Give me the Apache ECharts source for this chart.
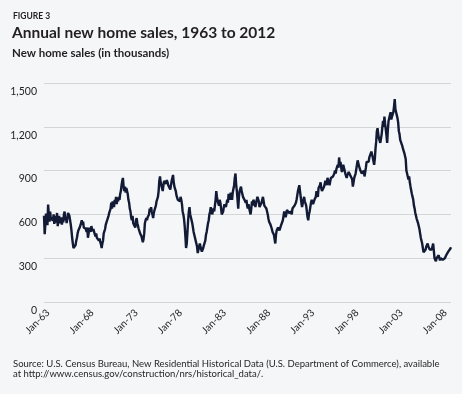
<!DOCTYPE html>
<html><head><meta charset="utf-8">
<script src="https://cdn.jsdelivr.net/npm/echarts@6/dist/echarts.min.js"></script>
<style>html,body{margin:0;padding:0;background:#f4f6f8;}#c{width:462px;height:394px;}</style>
</head><body><div id="c"></div>
<script>
// New home sales, seasonally adjusted annual rate, thousands (monthly, Jan 1963 onward)
const startYear = 1963;
const sales1960s = [
  591, 464, 461, 605, 586, 526, 668, 597, 551, 620, 560, 558,
  580, 555, 600, 535, 590, 560, 545, 610, 520, 565, 590, 540,
  555, 580, 530, 560, 545, 600, 620, 560, 580, 540, 575, 610,
  600, 590, 560, 530, 490, 440, 400, 370, 360, 365, 390, 420,
  440, 470, 490, 480, 510, 500, 540, 560, 530, 550, 510, 520,
  520, 500, 480, 510, 440, 470, 510, 500, 480, 520, 500, 485,
  500, 480, 470, 450, 470, 440, 430, 445, 420, 435, 410, 395
];
const sales1970s = [
  370, 400, 420, 470, 460, 500, 530, 545, 560, 575, 590, 610,
  600, 640, 680, 640, 690, 700, 650, 700, 680, 720, 670, 710,
  690, 720, 700, 740, 760, 800, 830, 850, 790, 760, 790, 750,
  780, 760, 740, 700, 680, 640, 620, 580, 560, 590, 540, 550,
  530, 510, 560, 575, 540, 520, 500, 490, 470, 480, 450, 440,
  410, 430, 470, 540, 560, 575, 560, 580, 570, 600, 640, 620,
  650, 620, 600, 575, 610, 630, 620, 660, 690, 680, 720, 760,
  830, 860, 820, 800, 780, 760, 800, 830, 820, 840, 810, 835,
  820, 800, 810, 790, 770, 780, 830, 850, 870, 820, 790, 780,
  760, 730, 720, 700, 690, 710, 690, 720, 700, 670, 620, 600
];
const sales1980s = [
  570, 520, 450, 370, 400, 480, 560, 620, 650, 600, 580, 560,
  540, 510, 480, 470, 440, 420, 410, 380, 335, 340, 380, 400,
  390, 360, 345, 335, 370, 390, 380, 420, 460, 480, 510, 540,
  560, 600, 620, 650, 640, 600, 620, 640, 620, 660, 700, 760,
  720, 690, 680, 660, 700, 680, 640, 600, 590, 620, 650, 670,
  680, 650, 640, 700, 680, 740, 720, 700, 750, 720, 700, 750,
  760, 800, 850, 880, 800, 760, 700, 640, 720, 760, 770, 790,
  760, 740, 720, 730, 700, 710, 680, 700, 660, 640, 670, 640,
  620, 600, 640, 690, 660, 700, 710, 680, 650, 660, 700, 720,
  710, 690, 650, 660, 640, 680, 700, 720, 690, 660, 670, 650
];
const sales1990s = [
  640, 620, 600, 570, 550, 540, 530, 520, 500, 480, 470, 460,
  430, 401, 460, 490, 500, 510, 500, 490, 505, 520, 510, 530,
  560, 590, 620, 600, 580, 600, 630, 620, 640, 610, 620, 600,
  620, 600, 640, 650, 630, 660, 670, 680, 700, 730, 760, 780,
  800, 760, 720, 680, 650, 640, 700, 720, 690, 700, 660, 650,
  580, 560, 600, 620, 650, 680, 700, 690, 670, 660, 700, 710,
  720, 760, 740, 720, 780, 790, 800, 820, 780, 760, 770, 750,
  790, 810, 830, 820, 800, 850, 860, 820, 800, 810, 850, 840,
  850, 860, 870, 880, 900, 880, 910, 920, 940, 920, 990, 940,
  960, 920, 890, 910, 940, 920, 900, 880, 870, 850, 870, 880
];
const sales2000s = [
  890, 900, 870, 880, 860, 840, 790, 820, 850, 860, 880, 910,
  940, 970, 950, 930, 920, 900, 890, 880, 870, 890, 900, 860,
  890, 920, 960, 970, 950, 960, 990, 1000, 980, 1030, 1010, 990,
  1000, 940, 980, 1050, 1100, 1170, 1190, 1150, 1120, 1130, 1090, 1100,
  1150, 1200, 1240, 1200, 1270, 1220, 1180, 1140, 1090, 1180, 1240, 1230,
  1280, 1300, 1250, 1270, 1260, 1300, 1340, 1389, 1320, 1300, 1280, 1260,
  1230, 1170, 1150, 1110, 1120, 1100, 1070, 1050, 1040, 1020, 1010, 980,
  900, 890, 860, 840, 860, 820, 790, 780, 740, 720, 700, 660,
  640, 610, 590, 570, 560, 540, 520, 500, 470, 440, 420, 400,
  370, 340, 330, 345, 360, 380, 390, 400, 380, 390, 360, 350
];
const sales2010s = [
  350, 360, 380, 400, 410, 300, 290, 280, 300, 290, 300, 320,
  310, 285, 300, 310, 300, 290, 285, 290, 300, 310, 320, 330,
  330, 345, 355, 345, 365, 375
];
const tickLabels = ['Jan-63','Jan-68','Jan-73','Jan-78','Jan-83','Jan-88','Jan-93','Jan-98','Jan-03','Jan-08'];
const yMin = 0, yMax = 1500, yStep = 300;

const sales = [].concat(sales1960s, sales1970s, sales1980s, sales1990s, sales2000s, sales2010s);
const monthNames = ['Jan','Feb','Mar','Apr','May','Jun','Jul','Aug','Sep','Oct','Nov','Dec'];
const months = sales.map((v, i) => monthNames[i % 12] + '-' + String((startYear + Math.floor(i / 12)) % 100).padStart(2, '0'));

const FONT = 'Lato, "Open Sans", sans-serif';
const TXT = '#231f20';
const chart = echarts.init(document.getElementById('c'), null, {renderer: 'canvas'});
chart.setOption({
  animation: false,
  backgroundColor: '#f4f6f8',
  grid: [
    {left: 44, right: 11, top: 83, bottom: 92},
    {left: 48, right: 16.6, top: 83, bottom: 92}
  ],
  xAxis: [
    {type: 'category', data: months, boundaryGap: false, gridIndex: 0,
     axisLine: {show: false}, axisTick: {show: false}, axisLabel: {show: false}, splitLine: {show: false}},
    {type: 'category', data: tickLabels, boundaryGap: false, gridIndex: 1,
     axisLine: {show: false}, axisTick: {show: false}, splitLine: {show: false},
     axisLabel: {rotate: 45, margin: 9, interval: 0, fontSize: 10, color: TXT, fontFamily: FONT}}
  ],
  yAxis: [
    {type: 'value', min: yMin, max: yMax, interval: yStep, gridIndex: 0,
     axisLine: {show: false}, axisTick: {show: false},
     splitLine: {lineStyle: {color: '#d4d5d7', width: 1}},
     axisLabel: {margin: 7, fontSize: 10.5, color: TXT, fontFamily: FONT, verticalAlign: 'top', padding: [3, 0, 0, 0],
       formatter: v => v.toLocaleString('en-US')}},
    {type: 'value', gridIndex: 1, min: 0, max: 1, show: false}
  ],
  series: [{
    type: 'line', xAxisIndex: 0, yAxisIndex: 0, data: sales, showSymbol: false,
    lineStyle: {color: '#121a35', width: 2.4}, silent: true
  }],
  graphic: [
    {type: 'text', style: {text: 'FIGURE 3', x: 13, y: 16, fill: TXT, font: 'bold 8.5px ' + FONT, textVerticalAlign: 'middle'}},
    {type: 'text', style: {text: 'Annual new home sales, 1963 to 2012', x: 12, y: 32.5, fill: TXT, font: 'bold 15.5px ' + FONT, textVerticalAlign: 'middle'}},
    {type: 'text', style: {text: 'New home sales (in thousands)', x: 12, y: 53.7, fill: TXT, font: 'bold 11.5px ' + FONT, textVerticalAlign: 'middle'}},
    {type: 'text', style: {text: 'Source: U.S. Census Bureau, New Residential Historical Data (U.S. Department of Commerce), available', x: 13, y: 363.7, fill: TXT, font: '9.5px ' + FONT, textVerticalAlign: 'middle'}},
    {type: 'text', style: {text: 'at http://www.census.gov/construction/nrs/historical_data/.', x: 13, y: 373.9, fill: TXT, font: '9.5px ' + FONT, textVerticalAlign: 'middle'}}
  ]
});
</script></body></html>
